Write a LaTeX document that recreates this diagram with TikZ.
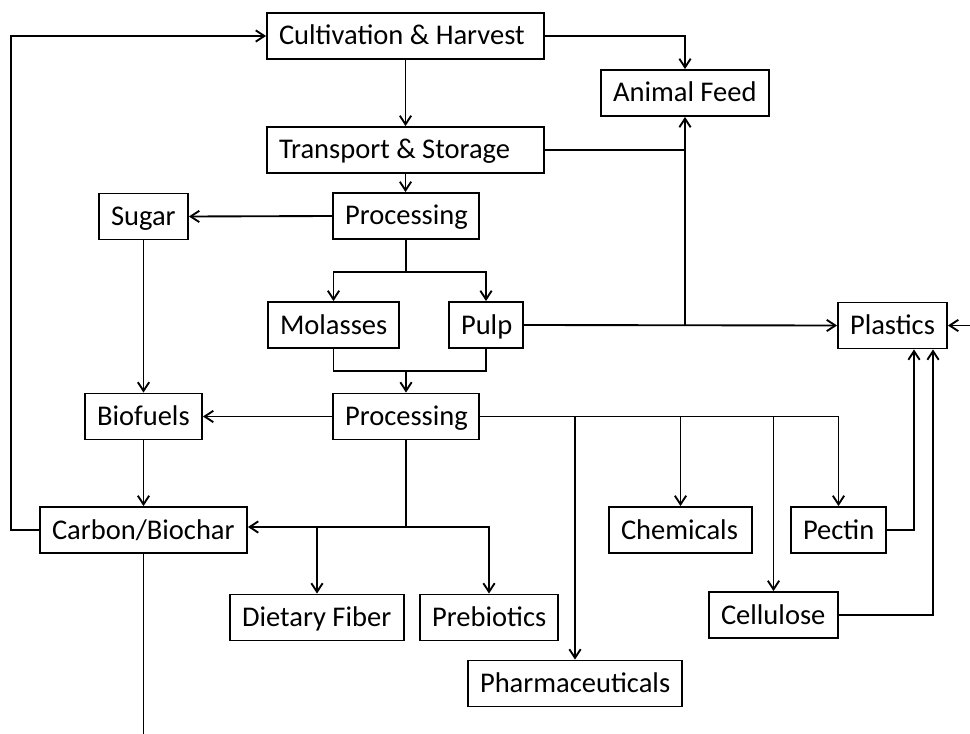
\documentclass[tikz,border=0pt]{standalone}
\usepackage{fontspec}
\setmainfont{Carlito}
\usetikzlibrary{arrows.meta,calc}
\newcommand{\bxt}[2]{\makebox[#1][l]{\rule[-4.5pt]{0pt}{22.5pt}#2}}
\begin{document}
\begin{tikzpicture}[x=0.75pt,y=-0.75pt,
  box/.style={draw,line width=1.4pt,inner xsep=9pt,inner ysep=0pt,minimum height=34.5pt,font=\fontsize{21.4}{25}\selectfont},
  ln/.style={line width=1.4pt},
  arr/.style={ln,-{Straight Barb[length=6.5pt,width=8.5pt]}}]
\useasboundingbox (0,0) rectangle (970,734);

\node[box] (cult)   at (405.5,36)  {\bxt{189.75pt}{Cultivation \& Harvest}};
\node[box] (feed)   at (685,93)    {\bxt{108pt}{Animal Feed}};
\node[box] (trans)  at (405.5,150) {\bxt{189.75pt}{Transport \& Storage}};
\node[box] (sugar)  at (143.5,216.5) {\bxt{48.75pt}{Sugar}};
\node[box] (proc1)  at (406,216)   {\bxt{91.5pt}{Processing}};
\node[box] (mol)    at (333.5,325) {\bxt{80.25pt}{Molasses}};
\node[box] (pulp)   at (486,325)   {\bxt{37.5pt}{Pulp}};
\node[box] (plast)  at (892.5,325.5) {\bxt{63.75pt}{Plastics}};
\node[box] (bio)    at (143.5,416.5) {\bxt{69.75pt}{Biofuels}};
\node[box] (proc2)  at (406,416.5) {\bxt{91.5pt}{Processing}};
\node[box] (carbon) at (143.5,530) {\bxt{137.25pt}{Carbon/Biochar}};
\node[box] (chem)   at (680.5,530) {\bxt{89.25pt}{Chemicals}};
\node[box] (pectin) at (838.5,530) {\bxt{53.25pt}{Pectin}};
\node[box] (diet)   at (317,617.5) {\bxt{112.5pt}{Dietary Fiber}};
\node[box] (preb)   at (489,617.5) {\bxt{85.5pt}{Prebiotics}};
\node[box] (cell)   at (773.5,615) {\bxt{78.75pt}{Cellulose}};
\node[box] (pharma) at (575,683.5) {\bxt{142.5pt}{Pharmaceuticals}};

\coordinate (j1) at (406,272);
\coordinate (j2) at (406,371);
\coordinate (j4) at (406,527);
\coordinate (rin) at (970,325.5);
\coordinate (cout) at (143.5,734);

% feedback loop
\draw[arr] (carbon.west) -- ++(-28,0) |- (cult.west);
% top
\draw[arr] (cult.east) -| (feed.north);
\draw[arr] (cult.south) -- (cult.south |- trans.north);
\draw[ln] (trans.east) -- (trans.east -| feed.south);
\draw[arr] (trans.south) -- (trans.south |- proc1.north);
\draw[arr] (proc1.west) -- (sugar.east);
% molasses / pulp
\draw[ln] (proc1.south) -- (j1);
\draw[arr] (j1) -| (mol.north);
\draw[arr] (j1) -| (pulp.north);
\draw[ln] (mol.south) |- (j2);
\draw[ln] (pulp.south) |- (j2);
\draw[arr] (j2) -- (proc2.north);
\draw[arr] (pulp.east) -- (plast.west);
\draw[arr] (feed.south |- pulp.east) -- (feed.south);
% left column
\draw[arr] (sugar.south) -- (bio.north);
\draw[arr] (proc2.west) -- (bio.east);
\draw[arr] (bio.south) -- (carbon.north);
\draw[ln] (carbon.south) -- (cout);
% processing 2 down
\draw[ln] (proc2.south) -- (j4);
\draw[arr] (j4) -- (j4 -| carbon.east);
\draw[arr] (j4 -| diet.north) -- (diet.north);
\draw[arr] (j4) -| (preb.north);
% processing 2 right
\draw[arr] (proc2.east) -| (pectin.north);
\draw[arr] (proc2.east -| pharma.north) -- (pharma.north);
\draw[arr] (proc2.east -| chem.north) -- (chem.north);
\draw[arr] (proc2.east -| cell.north) -- (cell.north);
% to plastics
\draw[arr] (pectin.east) -| ($(plast.south)+(21.5,0)$);
\draw[arr] (cell.east) -| ($(plast.south)+(40.5,0)$);
\draw[arr] (rin) -- (plast.east);
\end{tikzpicture}
\end{document}
